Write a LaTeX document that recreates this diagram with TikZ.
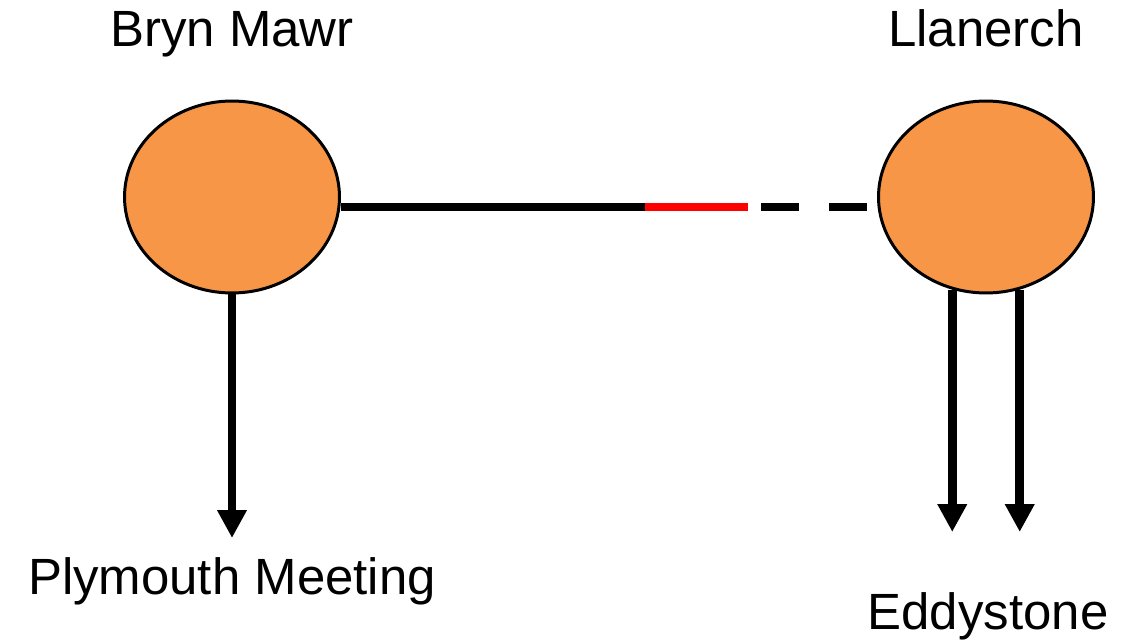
\documentclass[tikz,border=0pt]{standalone}
\usepackage{fontspec}
\setmainfont{Liberation Sans}
\usetikzlibrary{shapes.geometric, positioning, arrows.meta}
\definecolor{gare}{HTML}{F79646}
\tikzset{
  station/.style={ellipse, draw=black, line width=1.7pt, fill=gare, inner sep=0pt,
    minimum width=4.30cm, minimum height=3.84cm},
  nom/.style={anchor=base, inner sep=0pt, font=\fontsize{29}{34}\selectfont},
  voie/.style={line width=5pt, line cap=butt},
  fleche/.style={line width=5pt, -{Triangle[width=0.56cm,length=0.56cm]}}
}

\begin{document}
\begin{tikzpicture}[x=0.02cm,y=-0.02cm]
\useasboundingbox (0,0) rectangle (1137,641);

\node[station] (bm) at (232,197) {};%les gares
\node[station] (ll) at (986,197) {};

\node[nom] (nbm) at (232,47) {Bryn Mawr};
\node[nom] (nll) at (986,47) {Llanerch};
\node[nom] (npm) at (232,595) {Plymouth Meeting};
\node[nom] (ned) at (988,630) {Eddystone};

\coordinate (r1) at (645,207);%la voie
\coordinate (r2) at (748,207);
\coordinate (r3) at (761,207);
\draw[voie] (bm.east |- r1) -- (r1);
\draw[voie, red] (r1) -- (r2);
\draw[voie, dash pattern=on 0.76cm off 0.6cm] (r3) -- (ll.west |- r3);

\coordinate (pm) at (232,538);%les fleches
\coordinate (ed) at (986,532);
\draw[fleche] (bm.south) -- (pm);
\draw[fleche] (ll.250) -- (ll.250 |- ed);
\draw[fleche] (ll.290) -- (ll.290 |- ed);
\end{tikzpicture}
\end{document}
